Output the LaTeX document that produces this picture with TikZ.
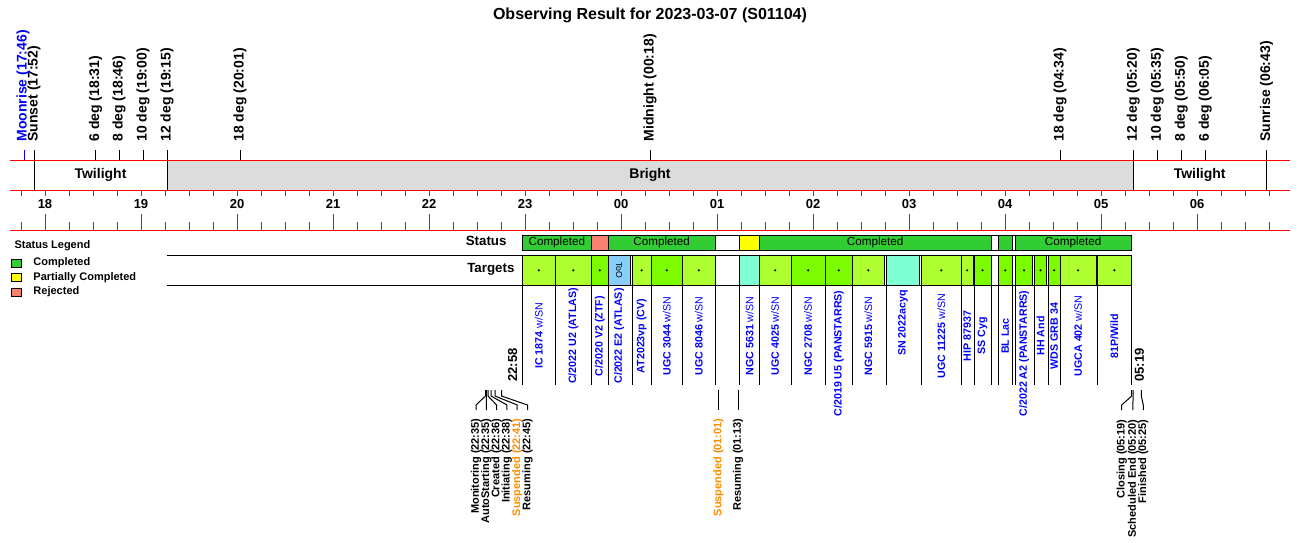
\documentclass[tikz,border=0pt]{standalone}
\usepackage{fontspec}
\setmainfont{Liberation Sans}
\definecolor{cgreen}{HTML}{32CD32}
\definecolor{cyellow}{HTML}{FFFF00}
\definecolor{csalmon}{HTML}{FA8072}
\definecolor{cgy}{HTML}{ADFF2F}
\definecolor{clg}{HTML}{7CFC00}
\definecolor{caq}{HTML}{7FFFD4}
\definecolor{csky}{HTML}{87CEFA}
\definecolor{cgray}{HTML}{DCDCDC}
\definecolor{cblue}{HTML}{0000FF}
\definecolor{corange}{HTML}{FF8C00}
\newcommand\wsn{{\mdseries w/SN}}
\newcommand\StatSeg[5]{%
  \draw[fill=#3] (#1,235.3) rectangle (#2,250.3);
  \node[statlab] (#4) at ({(#1+#2)/2},242.8) {#5};}
% #1 left #2 right #3 fill #4 dot #5 name #6 node options #7 label y #8 text
\newcommand\TgtBox[8]{%
  \draw[fill=#3] (#1,255.3) rectangle (#2,285);
  \ifnum#4=1 \fill ({(#1+#2)/2},270.3) circle (0.9pt);\fi
  \draw (#1,285) -- (#1,385);
  \node[tlab,#6] (#5) at ({(#1+#2)/2},#7) {#8};}
\newcommand\EvLab[6]{%
  \coordinate (#1t) at (#2,390);
  \node[evlab,text=#4] (#1) at (#3,#6) {#5};
  \draw (#1t) -- ++(0,6) -- (#1.east |- y405) -- (#1.east |- y410);}
\begin{document}
\begin{tikzpicture}[x=0.75pt,y=-0.75pt,line width=0.75pt,
  redline/.style={draw=red,line width=0.75pt},
  toplab/.style={rotate=90,anchor=west,font=\fontsize{10.5}{12}\selectfont\bfseries,inner sep=0pt},
  hourlab/.style={font=\fontsize{9.75}{11}\selectfont\bfseries,inner sep=0pt},
  bandlab/.style={font=\fontsize{10.5}{12}\selectfont\bfseries,inner sep=0pt},
  rowlab/.style={anchor=east,font=\fontsize{10}{12}\selectfont\bfseries,inner sep=0pt},
  leglab/.style={anchor=west,font=\fontsize{8.25}{10}\selectfont\bfseries,inner sep=0pt},
  statlab/.style={font=\fontsize{8.75}{10}\selectfont,inner sep=0pt},
  tlab/.style={rotate=90,font=\fontsize{8}{10}\selectfont\bfseries,text=cblue,inner sep=0pt},
  evlab/.style={rotate=90,anchor=east,font=\fontsize{8.25}{10}\selectfont\bfseries,inner sep=0pt},
  timelab/.style={rotate=90,anchor=west,font=\fontsize{9.75}{11}\selectfont\bfseries,inner sep=0pt}]
\useasboundingbox (0,0) rectangle (1300,560);
\coordinate (y405) at (0,405);
\coordinate (y410) at (0,410);
% title
\node[font=\fontsize{12}{14}\selectfont\bfseries] (title) at (650,15) {Observing Result for 2023-03-07 (S01104)};
% band
\fill[cgray] (167,160) rectangle (1133.3,190);
\node[bandlab] (tw1) at (100.5,175) {Twilight};
\node[bandlab] (bright) at (650,175) {Bright};
\node[bandlab] (tw2) at (1199.7,175) {Twilight};
% top events
\foreach \x/\n/\t in {95.5/ea/{6 deg (18:31)},119/eb/{8 deg (18:46)},143/ec/{10 deg (19:00)},240/ed/{18 deg (20:01)},650/emid/{Midnight (00:18)},1060/ee/{18 deg (04:34)},1157.3/ef/{10 deg (05:35)},1181.3/eg/{8 deg (05:50)},1205.3/eh/{6 deg (06:05)}}
  {\draw (\x,150) -- (\x,160); \node[toplab] (\n) at (\x,142) {\t};}
\foreach \x/\n/\t in {34/esunset/{Sunset (17:52)},167/ei/{12 deg (19:15)},1133.3/ej/{12 deg (05:20)},1266.5/esunrise/{Sunrise (06:43)}}
  {\draw (\x,150) -- (\x,190); \node[toplab] (\n) at (\x,142) {\t};}
\draw[cblue] (24,150) -- (24,160);
\node[toplab,text=cblue] (moonrise) at (23,142) {Moonrise (17:46)};
% red lines
\draw[redline] (10,160) -- (1290,160);
\draw[redline] (10,190) -- (1290,190);
\draw[redline] (10,230) -- (1290,230);
% ruler
\foreach \i in {0,...,52} {
  \draw[redline] ({21+24*\i},190) -- ({21+24*\i},196);
  \draw[redline] ({21+24*\i},230) -- ({21+24*\i},222);}
\foreach \k/\lab in {0/18,1/19,2/20,3/21,4/22,5/23,6/00,7/01,8/02,9/03,10/04,11/05,12/06} {
  \draw[redline] ({45+96*\k},230) -- ({45+96*\k},214);
  \node[hourlab] (h\k) at ({45+96*\k},204) {\lab};}
% legend
\node[leglab] (legtitle) at (14,246) {Status Legend};
\draw[fill=cgreen] (11,259) rectangle (21,267);
\node[leglab] (legc) at (33,262.5) {Completed};
\draw[fill=cyellow] (11,273.7) rectangle (21,281.7);
\node[leglab] (legp) at (33,277.2) {Partially Completed};
\draw[fill=csalmon] (11,288.3) rectangle (21,296.3);
\node[leglab] (legr) at (33,292) {Rejected};
% row labels
\node[rowlab] (status) at (507,241) {Status};
\node[rowlab] (targets) at (515,269) {Targets};
\draw (166.7,255.3) -- (522.3,255.3);
\draw (166.7,285) -- (522.3,285);
% status bar
\draw (522.3,235.3) rectangle (1131,250.3);
\StatSeg{522.3}{591.3}{cgreen}{s1}{Completed}
\StatSeg{591.3}{608.3}{csalmon}{s2}{}
\StatSeg{608.3}{715}{cgreen}{s3}{Completed}
\StatSeg{739.3}{759.3}{cyellow}{s4}{}
\StatSeg{759.3}{991}{cgreen}{s5}{Completed}
\StatSeg{998.3}{1012.3}{cgreen}{s6}{}
\StatSeg{1015.3}{1131}{cgreen}{s7}{Completed}
% targets
\draw (522.3,255.3) rectangle (1131,285);
\TgtBox{522.3}{555.3}{cgy}{1}{t1}{}{336}{IC 1874 \wsn}
\TgtBox{555.3}{591.3}{cgy}{1}{t2}{}{336}{C/2022 U2 (ATLAS)}
\TgtBox{591.3}{608.3}{clg}{1}{t3}{}{336}{C/2020 V2 (ZTF)}
\TgtBox{608.3}{630}{csky}{0}{t4}{}{336}{C/2022 E2 (ATLAS)}
\node[rotate=-90,font=\fontsize{6.5}{8}\selectfont,inner sep=0pt] (too) at (619.2,270) {ToO};
\TgtBox{632}{651.3}{cgy}{1}{t5}{}{336}{AT2023vp (CV)}
\TgtBox{651.3}{682.3}{clg}{1}{t6}{}{336}{UGC 3044 \wsn}
\TgtBox{682.3}{715.3}{cgy}{1}{t7}{}{336}{UGC 8046 \wsn}
\TgtBox{739.7}{759.3}{caq}{0}{t8}{}{336}{NGC 5631 \wsn}
\TgtBox{759.3}{791}{cgy}{1}{t9}{}{336}{UGC 4025 \wsn}
\TgtBox{791}{825.3}{clg}{1}{t10}{}{336}{NGC 2708 \wsn}
\TgtBox{825.3}{852.3}{clg}{1}{t11}{anchor=east}{290}{C/2019 U5 (PANSTARRS)}
\TgtBox{852.3}{884.3}{cgy}{1}{t12}{}{336}{NGC 5915 \wsn}
\TgtBox{886.3}{919.7}{caq}{0}{t13}{}{323}{SN 2022acyq}
\TgtBox{921.3}{961.3}{cgy}{1}{t14}{}{336}{UGC 11225 \wsn}
\TgtBox{961.3}{973}{cgy}{1}{t15}{}{336}{HIP 87937}
\TgtBox{974}{991}{clg}{1}{t16}{}{336}{SS Cyg}
\TgtBox{998.3}{1012.3}{clg}{1}{t17}{}{336}{BL Lac}
\TgtBox{1015.3}{1032.7}{clg}{1}{t18}{anchor=east}{290}{C/2022 A2 (PANSTARRS)}
\TgtBox{1034.3}{1046.7}{clg}{1}{t19}{}{336}{HH And}
\TgtBox{1048.3}{1060}{clg}{1}{t20}{}{336}{WDS GRB 34}
\TgtBox{1060}{1096}{cgy}{1}{t21}{}{336}{UGCA 402 \wsn}
\TgtBox{1097.7}{1131}{cgy}{1}{t22}{}{336}{81P/Wild}
\draw (715.3,285) -- (715.3,385);
\draw (991,285) -- (991,385);
\draw (1012.3,285) -- (1012.3,385);
\draw (1131,285) -- (1131,385);
\node[timelab] (tstart) at (512.7,382) {22:58};
\node[timelab] (tend) at (1139.3,382) {05:19};
% events
\EvLab{v1}{485.5}{476}{black}{Monitoring (22:35)}{418}
\EvLab{v2}{486.5}{486.3}{black}{AutoStarting (22:35)}{418}
\EvLab{v3}{488}{496.6}{black}{Created (22:36)}{418}
\EvLab{v4}{491}{506.9}{black}{Initiating (22:38)}{418}
\EvLab{v5}{495}{517.2}{black}{{\color{corange}Suspended (22:41)}}{418}
\EvLab{v6}{501.5}{527.5}{black}{Resuming (22:45)}{418}
\EvLab{v7}{718.5}{718.5}{corange}{Suspended (01:01)}{418}
\EvLab{v8}{738.1}{738.1}{black}{Resuming (01:13)}{418}
\EvLab{v9}{1131.7}{1121.7}{black}{Closing (05:19)}{419}
\EvLab{v10}{1133.1}{1132.9}{black}{Scheduled End (05:20)}{419}
\EvLab{v11}{1141.3}{1143.3}{black}{Finished (05:25)}{419}
\end{tikzpicture}
\end{document}
